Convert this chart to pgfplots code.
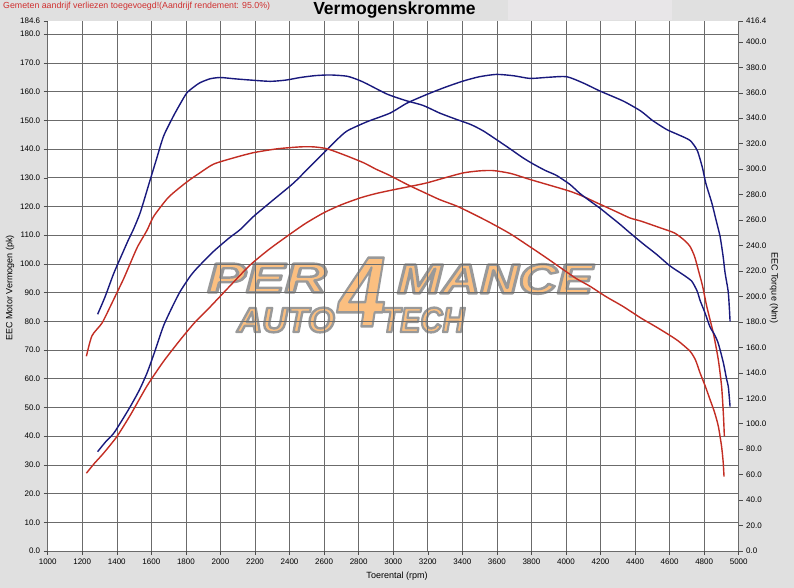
\documentclass[border=0pt]{standalone}
\usepackage{fontspec}
\setmainfont{Liberation Sans}
\usepackage{graphicx}
\usepackage{pgfplots}
\pgfplotsset{compat=1.18}

\definecolor{bgGray}{HTML}{E0E0E0}
\definecolor{titleBox}{HTML}{E8E6E8}
\definecolor{tuneBlue}{RGB}{25,25,125}
\definecolor{stockRed}{RGB}{195,45,35}
\definecolor{wmOrange}{HTML}{FBBF80}
\definecolor{noteRed}{HTML}{D03030}

% watermark piece: x scale, font size, text (orange fill, grey outline)
\newcommand{\wmtext}[3]{%
  \scalebox{#1}[1]{\fontsize{#2}{#2}\selectfont\bfseries\itshape
    \special{pdf:code 0.6 G 2.4 w 1 j 2 Tr}#3\special{pdf:code 0 Tr}}}

\begin{document}
\begin{tikzpicture}[x=1pt,y=1pt]
\path[use as bounding box] (0,0) rectangle (794,588);
\fill[bgGray] (0,0) rectangle (794,588);
\fill[titleBox] (508,568) rectangle (672,588);
\fill[white] (47.7,37) rectangle (738.7,567);

% logo watermark
\begin{scope}[every node/.style={text=wmOrange, inner sep=0}]
\node at (267,310) {\wmtext{1.38}{42}{PER}};
\node at (495,309) {\wmtext{1.27}{42}{MANCE}};
\node at (286,268) {\wmtext{0.99}{35}{AUTO}};
\node at (423,268) {\wmtext{0.87}{35}{TECH}};
\node at (362,296) {\wmtext{0.85}{100}{4}};
\end{scope}

\begin{axis}[
  at={(47.7pt,37pt)}, anchor=south west,
  width=691pt, height=530pt, scale only axis,
  xmin=1000, xmax=5000, ymin=0, ymax=184.6,
  xtick={1000,1200,...,5000},
  ytick={0,10,...,180},
  extra y ticks={184.6},
  extra y tick style={grid=none},
  grid=major,
  grid style={black!58, line width=0.6pt},
  axis line style={draw=none},
  tick pos=left, tick align=outside,
  major tick length=4pt,
  major tick style={black!70, line width=0.5pt},
  scaled ticks=false,
  xticklabel style={font=\fontsize{8}{9}\selectfont,
    /pgf/number format/.cd, fixed, 1000 sep={}, assume math mode=true},
  yticklabel style={font=\fontsize{8}{9}\selectfont,
    /pgf/number format/.cd, fixed, fixed zerofill, precision=1, assume math mode=true},
]
% tuned power (pk)
\addplot[tuneBlue, line width=1.4pt, smooth, tension=0.4] coordinates {
(1289,34.6)(1335,38.0)(1382,41.0)(1430,45.5)(1478,50.3)(1530,56.0)(1575,62.0)(1620,69.5)(1671,78.5)(1729,86.0)(1768,90.5)(1825,95.7)(1864,98.5)(1961,104.4)(2050,109.0)(2115,112.0)(2193,116.6)(2300,122.0)(2424,128.2)(2520,134.0)(2598,138.7)(2670,143.0)(2733,146.3)(2848,149.5)(2981,152.5)(3080,156.0)(3194,159.0)(3300,161.5)(3406,163.7)(3500,165.2)(3599,166.0)(3700,165.5)(3792,164.6)(3900,165.0)(4004,165.2)(4100,163.0)(4197,160.2)(4332,156.7)(4434,153.2)(4500,150.0)(4583,146.8)(4650,145.0)(4718,143.0)(4760,139.5)(4790,133.5)(4810,128.0)(4844,121.3)(4870,115.0)(4892,109.6)(4910,102.5)(4921,96.9)(4940,89.9)(4950,80.0)};
% stock power (pk)
\addplot[stockRed, line width=1.4pt, smooth, tension=0.4] coordinates {
(1224,27.1)(1270,30.5)(1324,34.1)(1401,39.9)(1480,47.5)(1575,57.5)(1670,66.0)(1768,73.6)(1850,79.5)(1940,85.0)(2050,92.0)(2170,99.5)(2280,105.0)(2385,109.6)(2490,114.0)(2598,117.8)(2700,120.6)(2810,123.0)(2900,124.5)(3000,125.8)(3100,127.0)(3194,128.2)(3300,130.0)(3406,131.7)(3500,132.4)(3580,132.5)(3680,131.5)(3792,129.4)(3900,127.5)(4023,125.3)(4100,123.5)(4178,121.3)(4280,118.5)(4370,116.0)(4434,114.9)(4544,112.6)(4627,110.8)(4680,108.5)(4718,106.1)(4745,102.5)(4770,97.0)(4790,92.5)(4815,85.2)(4853,75.9)(4882,66.6)(4901,57.3)(4911,48.0)(4917,39.9)};
\end{axis}

\begin{axis}[
  at={(47.7pt,37pt)}, anchor=south west,
  width=691pt, height=530pt, scale only axis,
  xmin=1000, xmax=5000, ymin=0, ymax=416.4,
  axis x line=none, axis y line*=right,
  axis line style={draw=none},
  ytick={0,20,...,400},
  extra y ticks={416.4},
  tick align=outside,
  major tick length=4pt,
  major tick style={black!70, line width=0.5pt},
  scaled ticks=false,
  yticklabel style={font=\fontsize{8}{9}\selectfont,
    /pgf/number format/.cd, fixed, fixed zerofill, precision=1, assume math mode=true},
]
% tuned torque (Nm)
\addplot[tuneBlue, line width=1.4pt, smooth, tension=0.4] coordinates {
(1289,186)(1333,200)(1382,218)(1430,233)(1469,245)(1494,252)(1536,266)(1594,292)(1630,308)(1671,326)(1729,342)(1770,352)(1806,360)(1850,365)(1883,368)(1940,371)(1999,372)(2080,371)(2173,370)(2289,369)(2380,370)(2462,372)(2550,373.5)(2636,374)(2733,373)(2800,370)(2848,367)(2964,359)(3070,354)(3174,350)(3270,344)(3368,339)(3450,335)(3522,330)(3600,323)(3676,316)(3750,309)(3811,304)(3880,299)(3946,295)(4023,288)(4080,281)(4139,275)(4200,269)(4255,263)(4310,257)(4370,250)(4450,241)(4525,233)(4602,224)(4679,217)(4728,212)(4760,204)(4776,197)(4805,187)(4834,176)(4860,170)(4882,163)(4911,148)(4930,135)(4940,129)(4950,113.5)};
% stock torque (Nm)
\addplot[stockRed, line width=1.4pt, smooth, tension=0.4] coordinates {
(1224,153)(1256,169)(1314,179)(1362,192)(1401,203)(1440,214)(1478,226)(1520,239)(1575,252)(1614,263)(1700,278)(1806,290)(1880,297)(1961,304)(2080,309)(2193,313)(2330,316)(2462,317.5)(2540,317.5)(2617,316)(2720,311)(2829,305)(2900,300)(2981,295)(3080,288)(3174,282)(3270,276)(3368,271)(3460,265)(3561,258)(3680,249)(3792,239)(3890,230)(3985,221)(4060,214)(4139,208)(4230,200)(4332,192)(4434,183)(4510,177)(4583,171)(4650,165)(4718,157)(4750,150)(4776,140)(4805,130)(4834,119)(4860,109)(4882,98)(4901,82)(4910,70)(4915,58.4)};
\end{axis}

% titles and labels
\node[font=\fontsize{17.5}{20}\selectfont\bfseries] at (394.5,578) {Vermogenskromme};
\node[anchor=west, text=noteRed, font=\fontsize{8.8}{10}\selectfont, inner sep=0] at (3,582) {Gemeten aandrijf verliezen toegevoegd!(Aandrijf rendement: 95.0\%)};
\node[font=\fontsize{9}{10}\selectfont] at (397,12) {Toerental (rpm)};
\node[rotate=90, font=\fontsize{9}{10}\selectfont] at (10,300) {EEC Motor Vermogen (pk)};
\node[rotate=-90, font=\fontsize{9}{10}\selectfont] at (774,300) {EEC Torque (Nm)};
\end{tikzpicture}
\end{document}
